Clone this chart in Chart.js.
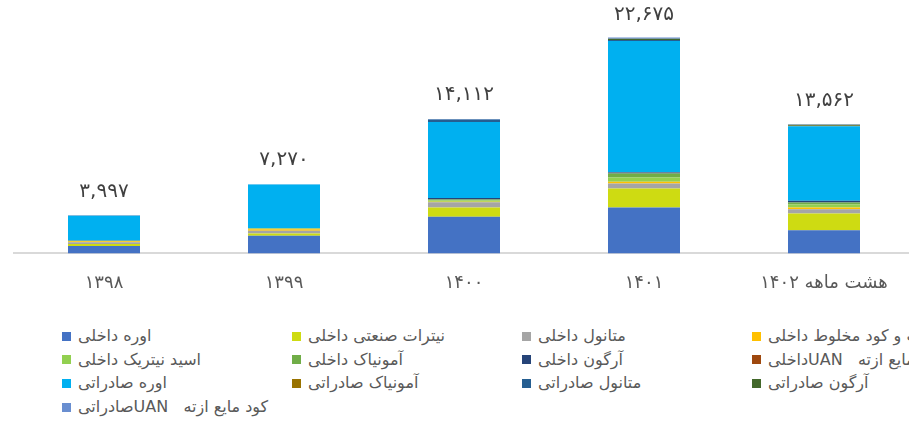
<!DOCTYPE html>
<html>
<head>
<meta charset="utf-8">
<script src="https://cdn.jsdelivr.net/npm/chart.js@4"></script>
<style>
  body { margin: 0; background: #fff; overflow: hidden; width: 909px; height: 425px; }
  #wrap { position: relative; width: 920px; height: 425px; }
  #legend { position: absolute; left: 0; top: 327px; width: 920px; font-family: "DejaVu Sans", sans-serif; font-size: 16px; color: #595959; }
  .item { position: absolute; display: flex; align-items: center; white-space: pre; line-height: 18px; }
  .box { width: 9px; height: 9px; margin-right: 7px; flex: none; }
</style>
</head>
<body>
<div id="wrap">
  <canvas id="chart" width="920" height="313"></canvas>
  <div id="legend"></div>
</div>
<script>
// years
var categories = ['۱۳۹۸', '۱۳۹۹', '۱۴۰۰', '۱۴۰۱', 'هشت ماهه ۱۴۰۲'];
var totals = [3997, 7270, 14112, 22675, 13562];

// series (bottom to top)
var seriesNames = [
  'اوره داخلی', 'نیترات صنعتی داخلی', 'متانول داخلی', 'نیترات و کود مخلوط داخلی',
  'اسید نیتریک داخلی', 'آمونیاک داخلی', 'آرگون داخلی', 'کود مایع ازته   UANداخلی',
  'اوره صادراتی', 'آمونیاک صادراتی', 'متانول صادراتی', 'آرگون صادراتی',
  'کود مایع ازته   UANصادراتی'
];
var seriesColors = [
  '#4472C4', '#CEDB12', '#A5A5A5', '#FFC000',
  '#92D050', '#70AD47', '#264478', '#9E480E',
  '#00B0F0', '#997300', '#255E91', '#43682B',
  '#698ED0'
];

var ureaDom     = [770, 1850, 3845, 4830, 2440];
var nitrateDom  = [230, 250, 975, 2000, 1740];
var methanolDom = [170, 280, 555, 525, 450];
var mixDom      = [100, 170, 60, 175, 200];
var acidDom     = [40, 60, 120, 450, 300];
var ammoniaDom  = [30, 40, 120, 420, 220];
var argonDom    = [10, 15, 140, 105, 170];
var uanDom      = [0, 0, 10, 20, 0];
var ureaExp     = [2610, 4585, 7987, 13800, 7842];
var ammoniaExp  = [0, 0, 0, 0, 60];
var methanolExp = [20, 0, 250, 100, 0];
var argonExp    = [0, 0, 0, 120, 100];
var uanExp      = [17, 20, 50, 130, 40];

var seriesData = [ureaDom, nitrateDom, methanolDom, mixDom, acidDom, ammoniaDom, argonDom, uanDom,
                  ureaExp, ammoniaExp, methanolExp, argonExp, uanExp];

function faNum(n) {
  var s = n.toString().replace(/\B(?=(\d{3})+(?!\d))/g, ',');
  return s.replace(/\d/g, function(d) { return '۰۱۲۳۴۵۶۷۸۹'[d]; });
}

var datasets = seriesNames.map(function(name, i) {
  return {
    label: name,
    data: seriesData[i],
    backgroundColor: seriesColors[i],
    borderWidth: 0,
    barPercentage: 0.4,
    categoryPercentage: 1
  };
});

// total labels above bars
var totalsPlugin = {
  id: 'totals',
  afterDatasetsDraw: function(chart) {
    var ctx = chart.ctx;
    ctx.save();
    ctx.font = '20px "DejaVu Sans"';
    ctx.fillStyle = '#404040';
    ctx.textAlign = 'center';
    ctx.textBaseline = 'middle';
    totals.forEach(function(t, i) {
      var x = chart.scales.x.getPixelForValue(i);
      var y = chart.scales.y.getPixelForValue(t);
      ctx.fillText(faNum(t), x, Math.max(y - 24, 15));
    });
    ctx.restore();
  }
};

new Chart(document.getElementById('chart').getContext('2d'), {
  type: 'bar',
  data: { labels: categories, datasets: datasets },
  options: {
    responsive: false,
    animation: false,
    layout: { padding: { left: 14, right: 6, top: 25, bottom: 0 } },
    scales: {
      x: {
        stacked: true,
        grid: { display: false, drawTicks: false },
        border: { display: true, color: '#d9d9d9', width: 2 },
        ticks: { color: '#595959', padding: 19, font: { size: 18, family: 'DejaVu Sans' } }
      },
      y: { stacked: true, display: false, min: 0, max: 24000 }
    },
    plugins: { legend: { display: false }, tooltip: { enabled: false } }
  },
  plugins: [totalsPlugin]
});

// legend grid, 4 columns
var legend = document.getElementById('legend');
seriesNames.forEach(function(name, i) {
  var col = i % 4, row = Math.floor(i / 4);
  var item = document.createElement('div');
  item.className = 'item';
  item.style.left = (62 + col * 230) + 'px';
  item.style.top = (row * 23.7) + 'px';
  var box = document.createElement('span');
  box.className = 'box';
  box.style.background = seriesColors[i];
  var txt = document.createElement('span');
  txt.dir = 'rtl';
  txt.textContent = name;
  item.appendChild(box);
  item.appendChild(txt);
  legend.appendChild(item);
});
</script>
</body>
</html>
